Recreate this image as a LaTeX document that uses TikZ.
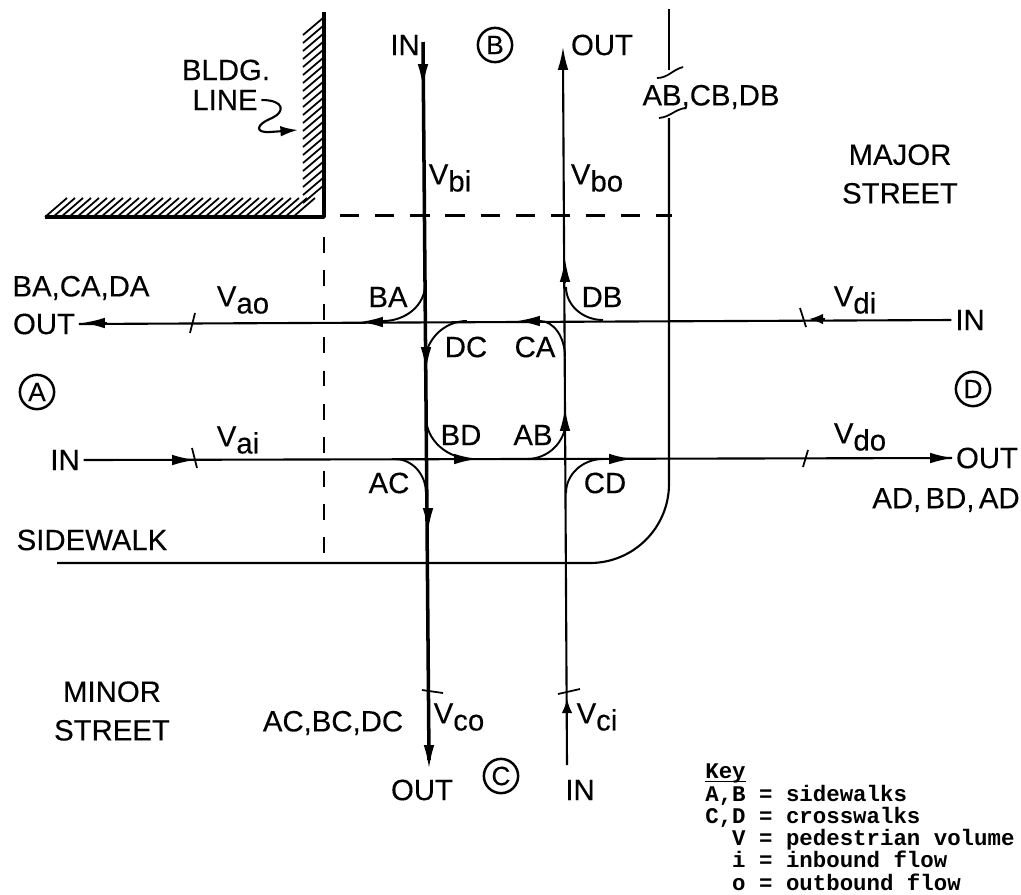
\documentclass[tikz,border=0pt]{standalone}
\usepackage{fontspec}
\setmainfont{Liberation Sans}[FakeBold=0.25]
\setmonofont{Liberation Mono}
\usetikzlibrary{arrows.meta,calc}
\newcommand{\vol}[1]{V\raisebox{-4pt}{#1}}

\begin{document}
\begin{tikzpicture}[x=0.02cm,y=-0.02cm,font=\fontsize{16.7}{18}\selectfont,
    inner sep=2pt,line join=round,
    street/.style={line width=1.2pt},
    heavy/.style={line width=2pt},
    turn/.style={line width=1.1pt},
    hatching/.style={line width=1pt},
    limit/.style={line width=1.4pt,dash pattern=on 11pt off 9pt},
    flowhead/.style={line width=1pt,-{Latex[length=#1,width=6pt]}},
    flowhead/.default=13pt,
    approach/.style={circle,draw,line width=1.4pt,minimum size=19.5pt,inner sep=0pt,
        font=\fontsize{15}{15}\selectfont}]
    \useasboundingbox (0,0) rectangle (1021,894);

    % Building line.
    \draw[line width=2pt] (324,12) -- (324,217) -- (45,217);
    \foreach \xx in {45,53,...,293}{
        \draw[hatching] (\xx,217) -- ++(22,-19);
    }
    \foreach \yy in {35,43,...,203}{
        \draw[hatching] (303,\yy) -- ++(20,-17);
    }
    \node (bldg) at (226,70) {BLDG.};
    \node (line) at (225,100) {LINE};
    \coordinate (bldgTip) at (298,130);
    \draw[line width=1.2pt,-{Latex[length=10pt,width=6pt]}] (line.east)
        .. controls (285,100) and (285,112) .. (272,118)
        .. controls (255,125) and (255,133) .. (270,132) -- (bldgTip);

    % Street limits and sidewalk.
    \coordinate (walkEnd) at (57,563);
    \coordinate (walkUp) at (669,118);
    \coordinate (walkTop) at (669,9);
    \coordinate (walkBreak) at (669,70);
    \draw[street,rounded corners=45pt] (walkEnd) -| (walkUp);
    \draw[street] (walkTop) -- (walkBreak);
    \draw[line width=1pt] (657,78) .. controls (668,78) and (672,70) .. (683,67);
    \draw[line width=1pt] (659,118) .. controls (670,117) and (674,110) .. (685,108);
    \draw[limit] (340,215.5) -- (672,215.5);
    \draw[limit,dash pattern=on 9pt off 10pt] (324,237) -- (324,563);

    % Approaches.
    \node[approach] (legA) at (37,392) {A};
    \node[approach] (legB) at (495,45) {B};
    \node[approach] (legC) at (501,776) {C};
    \node[approach] (legD) at (973,389) {D};

    % Ends of the flows.
    \node (inB) at (405,45) {IN};
    \node (outB) at (602,45) {OUT};
    \node (outA) at (44,324) {OUT};
    \node (inD) at (970,320) {IN};
    \node (inA) at (65,460) {IN};
    \node (outD) at (987,458) {OUT};
    \node (outC) at (422,790) {OUT};
    \node (inC) at (580,790) {IN};
    \coordinate (biEnd) at (423,42);
    \coordinate (coEnd) at (429,760);
    \coordinate (boEnd) at (563,60);
    \coordinate (ciEnd) at (567,765);

    \draw[heavy] (biEnd) -- (coEnd);
    \draw[street] (ciEnd) -- (boEnd);
    \draw[street] (inD.west) -- (outA.east);
    \draw[street] (inA.east) -- (outD.west);

    % Turning movements.
    \foreach \nm/\xa/\ya/\xb/\yb in {ba/425/285/383/321,db/566/287/603/320,
        dc/425/363/467/321,ca/565/357/540/321,bd/426/417/473/459,
        ab/566/420/527/459,ac/426/493/395/459,cd/566/493/603/459}{
        \coordinate (\nm Start) at (\xa,\ya);
        \coordinate (\nm End) at (\xb,\yb);
        \draw[turn] (\nm Start)
            .. controls ($(\nm Start)!0.55!(\nm Start |- \nm End)$)
            and ($(\nm End)!0.55!(\nm Start |- \nm End)$) .. (\nm End);
    }

    % Arrowheads on the flows.
    \foreach \xa/\ya/\xb/\yb in {423/63/423/87,563/71/563/47,429/745/429/768,
        107/323/82/323,382/322/360/322,540/321/517/321,
        172/460/195/460,453/459/477/459,607/459/632/459,931/458/953/458,
        565/283/565/259,565/430/565/408,426/345/426/370,428/508/428/531}{
        \draw[flowhead] (\xa,\ya) -- (\xb,\yb);
    }
    \draw[flowhead=8pt] (567,713) -- (567,699);
    \draw[flowhead=8pt] (825,319) -- (809,319);

    % Count lines.
    \foreach \xa/\ya/\xb/\yb in {190/333/195/313,192/448/197/468,800/308/806/327,
        808/450/803/467,422/690/443/693,558/694/580/689}{
        \draw[line width=1pt] (\xa,\ya) -- (\xb,\yb);
    }

    % Volumes.
    \node (vao) at (243,300) {\vol{ao}};
    \node (vai) at (238,440) {\vol{ai}};
    \node (vdi) at (855,300) {\vol{di}};
    \node (vdo) at (860,437) {\vol{do}};
    \node (vbi) at (450,178) {\vol{bi}};
    \node (vbo) at (597,178) {\vol{bo}};
    \node (vco) at (459,717) {\vol{co}};
    \node (vci) at (597,717) {\vol{ci}};

    % Movements at the corners.
    \node (lblBA) at (388,297) {BA};
    \node (lblDB) at (602,297) {DB};
    \node (lblDC) at (466,347) {DC};
    \node (lblCA) at (535,347) {CA};
    \node (lblBD) at (461,435) {BD};
    \node (lblAB) at (533,435) {AB};
    \node (lblAC) at (389,483) {AC};
    \node (lblCD) at (605,483) {CD};

    % Movement groups and street names.
    \node (grpB) at (711,97) {AB,CB,DB};
    \node (grpA) at (81,288) {BA,CA,DA};
    \node (grpD) at (946,500) {\spaceskip=0.15em AD, BD, AD};
    \node (grpC) at (333,723) {AC,BC,DC};
    \node (sidewalk) at (92,540) {SIDEWALK};
    \node[align=center] (major) at (900,174) {MAJOR\\[4pt]STREET};
    \node[align=center] (minor) at (112,711) {MINOR\\[4pt]STREET};

    % Key.
    \node[anchor=base west,align=left,inner sep=0pt,
        font=\ttfamily\bfseries\fontsize{12.75}{12.65}\selectfont] (key) at (705,890)
        {\underline{\smash{Key}}\\A,B = sidewalks\\C,D = crosswalks\\
        \phantom{A,}V = pedestrian volume\\\phantom{A,}i = inbound flow\\
        \phantom{A,}o = outbound flow};
\end{tikzpicture}
\end{document}
